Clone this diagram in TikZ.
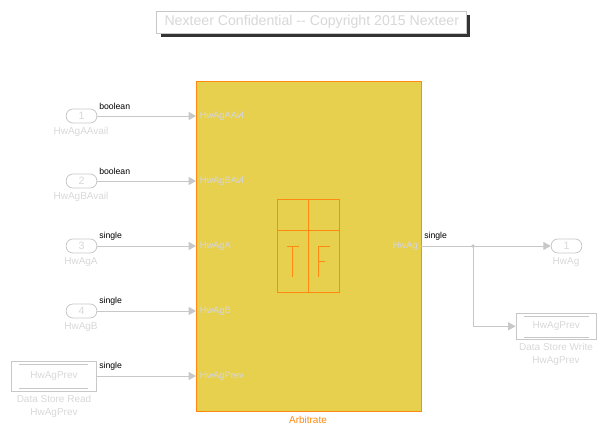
\documentclass[tikz,border=0pt]{standalone}
\usepackage{fontspec}
\setmainfont{Liberation Sans}
\usetikzlibrary{arrows.meta}
\definecolor{blockfill}{HTML}{E8D04F}
\definecolor{blockline}{HTML}{FF8A0F}
\definecolor{wirecol}{HTML}{C8C8C8}
\definecolor{greytext}{HTML}{D8D8D8}
\definecolor{pintext}{HTML}{D3D6DF}
\tikzset{
  wire/.style={draw=wirecol,line width=0.6pt,-{Triangle[length=5.5pt,width=6pt]}},
  portbox/.style={draw=wirecol,line width=0.6pt,rounded corners=5pt,minimum width=23pt,minimum height=10.5pt,inner sep=0pt,text=greytext,font=\fontsize{8}{8}\selectfont},
  storebox/.style={draw=wirecol,line width=0.6pt,inner sep=0pt,text=greytext,font=\fontsize{7.5}{7.5}\selectfont},
  caption/.style={text=greytext,inner sep=0pt,align=center,font=\fontsize{7.5}{9.75}\selectfont},
  pinlabel/.style={text=pintext,inner sep=0pt,anchor=west,font=\fontsize{7}{7}\selectfont},
  typelabel/.style={text=black,inner sep=0pt,anchor=west,font=\fontsize{6.5}{6.5}\selectfont},
  iconline/.style={draw=blockline,line width=0.6pt}
}
\begin{document}
\begin{tikzpicture}[x=0.75pt,y=-0.75pt]
  \useasboundingbox (0,0) rectangle (607,439);

  % title
  \fill[black!80] (161,15) rectangle (470,37);
  \node[draw=wirecol,fill=white,line width=0.6pt,inner sep=0pt,minimum width=232.5pt,minimum height=16.5pt,text=greytext,font=\fontsize{10.6}{10.6}\selectfont] (title) at (311.8,22) {Nexteer Confidential -{}- Copyright 2015 Nexteer};

  % main block
  \node[draw=blockline,fill=blockfill,line width=0.6pt,inner sep=0pt,minimum width=168.4pt,minimum height=247.5pt] (arbitrate) at (308.7,246) {};
  \node[text=blockline,inner sep=0pt,font=\fontsize{7.5}{7.5}\selectfont] (arbname) at (308,420) {Arbitrate};

  % icon
  \draw[iconline] (277.3,199.3) rectangle (339.3,292.3);
  \draw[iconline] (308.3,199.3)--(308.3,292.3);
  \draw[iconline] (277.3,230.3)--(339.3,230.3);
  \draw[iconline] (287,246.3)--(299,246.3);
  \draw[iconline] (292.5,246.3)--(292.5,276.6);
  \draw[iconline] (330,246.3)--(318.3,246.3)--(318.3,276.6);
  \draw[iconline] (318.3,261.5)--(325,261.5);

  % pins of the block
  \node[pinlabel] (pinaavail) at (199.5,116) {HwAgAAvl};
  \node[pinlabel] (pinbavail) at (199.5,181) {HwAgBAvl};
  \node[pinlabel] (pina) at (199.5,246) {HwAgA};
  \node[pinlabel] (pinb) at (199.5,311) {HwAgB};
  \node[pinlabel] (pinprev) at (199.5,376) {HwAgPrev};
  \node[pinlabel,anchor=east] (pinout) at (418,246) {HwAg};

  % inports
  \node[portbox] (inaavail) at (81.5,116) {1};
  \node[portbox] (inbavail) at (81.5,181) {2};
  \node[portbox] (ina) at (81.5,246) {3};
  \node[portbox] (inb) at (81.5,311) {4};
  \node[caption] (capaavail) at (81,132) {HwAgAAvail};
  \node[caption] (capbavail) at (81,197) {HwAgBAvail};
  \node[caption] (capa) at (81,262) {HwAgA};
  \node[caption] (capb) at (81,327) {HwAgB};

  % data stores
  \node[storebox,minimum width=64pt,minimum height=22pt] (storeread) at (54,376.5) {HwAgPrev};
  \draw[draw=wirecol,line width=0.6pt] (19,364.7)--(88,364.7);
  \draw[draw=wirecol,line width=0.6pt] (19,388.3)--(88,388.3);
  \node[caption] (capread) at (54,406) {Data Store Read\\HwAgPrev};
  \node[storebox,minimum width=60.5pt,minimum height=19.5pt] (storewrite) at (556.3,326.3) {HwAgPrev};
  \draw[draw=wirecol,line width=0.6pt] (524,316)--(589,316);
  \draw[draw=wirecol,line width=0.6pt] (524,337.3)--(589,337.3);
  \node[caption] (capwrite) at (556,354.5) {Data Store Write\\HwAgPrev};

  % outport
  \node[portbox] (outag) at (566.5,246) {1};
  \node[caption] (capag) at (566,262) {HwAg};

  % wires
  \draw[wire] (inaavail.east)--(inaavail.east -| arbitrate.west);
  \draw[wire] (inbavail.east)--(inbavail.east -| arbitrate.west);
  \draw[wire] (ina.east)--(ina.east -| arbitrate.west);
  \draw[wire] (inb.east)--(inb.east -| arbitrate.west);
  \draw[wire] (storeread.east |- pinprev)--(pinprev -| arbitrate.west);
  \draw[wire] (pinout -| arbitrate.east)--(outag.west);
  \coordinate (branch) at (473,246);
  \fill[wirecol] (branch) circle (1.9);
  \draw[wire] (branch)|-(storewrite.west);

  % signal types
  \node[typelabel] (typeaavail) at (99,106) {boolean};
  \node[typelabel] (typebavail) at (99,171) {boolean};
  \node[typelabel] (typea) at (99,236) {single};
  \node[typelabel] (typeb) at (99,301) {single};
  \node[typelabel] (typeprev) at (99,366) {single};
  \node[typelabel] (typeout) at (424,236) {single};
\end{tikzpicture}
\end{document}
